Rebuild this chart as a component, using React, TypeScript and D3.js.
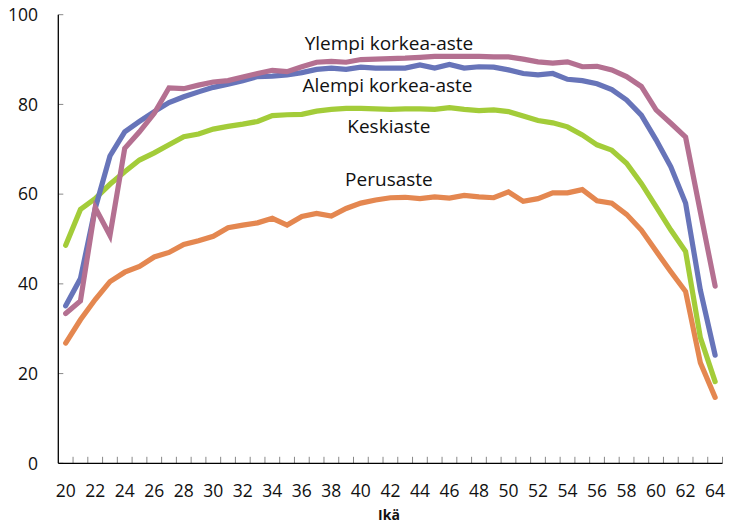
import React from "react";
import * as d3 from "d3";

const ages: number[] = d3.range(20, 65);

const perusaste: number[] = [
  26.8, 32.0, 36.5, 40.5, 42.6, 43.9, 46.0, 47.0, 48.8, 49.6,
  50.6, 52.5, 53.1, 53.6, 54.6, 53.1, 55.0, 55.7, 55.1, 56.8,
  58.0, 58.7, 59.2, 59.3, 59.0, 59.4, 59.1, 59.7, 59.4, 59.2,
  60.5, 58.4, 59.0, 60.3, 60.3, 61.0, 58.5, 58.0, 55.5, 52.0,
  47.3, 42.7, 38.3, 22.4, 14.7,
];

const keskiaste: number[] = [
  48.6, 56.6, 59.0, 62.2, 65.0, 67.6, 69.2, 71.0, 72.8, 73.4,
  74.5, 75.1, 75.6, 76.2, 77.5, 77.7, 77.8, 78.5, 78.9, 79.1,
  79.1, 79.0, 78.9, 79.0, 79.0, 78.9, 79.3, 78.9, 78.6, 78.8,
  78.4, 77.4, 76.4, 75.9, 75.0, 73.2, 71.0, 69.8, 66.9, 62.4,
  57.2, 52.0, 47.2, 28.0, 18.2,
];

const alempiKorkea: number[] = [
  35.1, 41.2, 56.8, 68.5, 73.9, 76.2, 78.4, 80.4, 81.7, 82.8,
  83.8, 84.5, 85.3, 86.2, 86.3, 86.6, 87.1, 87.8, 88.1, 87.8,
  88.3, 88.1, 88.1, 88.1, 88.8, 88.1, 88.9, 88.1, 88.4, 88.3,
  87.7, 86.9, 86.6, 86.9, 85.6, 85.3, 84.6, 83.3, 81.0, 77.6,
  72.1, 66.1, 58.0, 38.6, 24.1,
];

const ylempiKorkea: number[] = [
  33.4, 36.2, 57.0, 50.8, 70.2, 73.9, 78.0, 83.7, 83.5, 84.3,
  85.0, 85.3, 86.1, 86.9, 87.6, 87.3, 88.4, 89.4, 89.6, 89.4,
  90.0, 90.1, 90.2, 90.3, 90.5, 90.7, 90.7, 90.7, 90.7, 90.6,
  90.6, 90.1, 89.5, 89.2, 89.5, 88.4, 88.5, 87.7, 86.2, 84.0,
  78.8, 75.8, 72.7, 56.0, 39.5,
];

const seriesNames: string[] = ["Perusaste", "Keskiaste", "Alempi korkea-aste", "Ylempi korkea-aste"];
const seriesValues: number[][] = [perusaste, keskiaste, alempiKorkea, ylempiKorkea];
const seriesColors: string[] = ["#E48750", "#A3CC39", "#6774B9", "#B47091"];

const yTicks: number[] = [0, 20, 40, 60, 80, 100];
const xTickLabels: number[] = d3.range(20, 65, 2);
const xTitle = "Ikä";

// label placement (in data coords: age, value)
const labelPos: [number, number][] = [
  [41.9, 61.9],
  [41.9, 73.6],
  [41.8, 82.8],
  [41.9, 92.1],
];

export default function App() {
  const W = 730;
  const H = 523;
  const x = d3
    .scaleBand<number>()
    .domain(ages)
    .range([58.3, 722.5])
    .padding(0);
  const y = d3.scaleLinear().domain([0, 100]).range([463.3, 14.7]);
  const cx = (a: number) => (x(a) as number) + x.bandwidth() / 2;
  const cxf = (a: number) => x.range()[0] + (a - 20 + 0.5) * x.bandwidth();

  const line = d3
    .line<number>()
    .x((_, i) => cx(ages[i]))
    .y((d) => y(d));

  const font = "'Open Sans', 'Noto Sans', sans-serif";
  const x0 = 58.3;
  const x1 = 722.5;
  const y0 = y(0);

  return (
    <svg
      width={W}
      height={H}
      style={{ position: "absolute", left: 0, top: 0, background: "#fff" }}
      fontFamily={font}
    >
      {/* y ticks */}
      {yTicks.map((t) => (
        <g key={"y" + t}>
          <line x1={x0} x2={x0 + 5} y1={y(t)} y2={y(t)} stroke="#888" strokeWidth={1} />
          <text
            x={38}
            y={y(t)}
            dy="0.36em"
            textAnchor="end"
            fontSize={17.5}
            fill="#111"
          >
            {t}
          </text>
        </g>
      ))}
      {/* x ticks at band boundaries */}
      {ages.map((a) => (
        <line
          key={"xt" + a}
          x1={(x(a) as number) + x.bandwidth()}
          x2={(x(a) as number) + x.bandwidth()}
          y1={y0}
          y2={y0 - 6.5}
          stroke="#888"
          strokeWidth={1}
        />
      ))}
      {xTickLabels.map((a) => (
        <text
          key={"xl" + a}
          x={cx(a)}
          y={496.5}
          textAnchor="middle"
          fontSize={17.5}
          fill="#111"
        >
          {a}
        </text>
      ))}
      <text x={389} y={519.5} textAnchor="middle" fontSize={14} fontWeight="bold" fill="#111">
        {xTitle}
      </text>
      {/* axes */}
      <line x1={x0} x2={x0} y1={y(100)} y2={y0} stroke="#000" strokeWidth={1.3} />
      <line x1={x0} x2={x1} y1={y0} y2={y0} stroke="#000" strokeWidth={1.3} />
      {/* series */}
      {seriesValues.map((vals, i) => (
        <path
          key={seriesNames[i]}
          d={line(vals) || ""}
          fill="none"
          stroke={seriesColors[i]}
          strokeWidth={5.2}
          strokeLinecap="round"
          strokeLinejoin="miter"
        />
      ))}
      {/* labels */}
      {seriesNames.map((n, i) => (
        <text
          key={"lab" + n}
          x={cxf(labelPos[i][0])}
          y={y(labelPos[i][1])}
          textAnchor="middle"
          fontSize={19}
          fill="#111"
        >
          {n}
        </text>
      ))}
    </svg>
  );
}
